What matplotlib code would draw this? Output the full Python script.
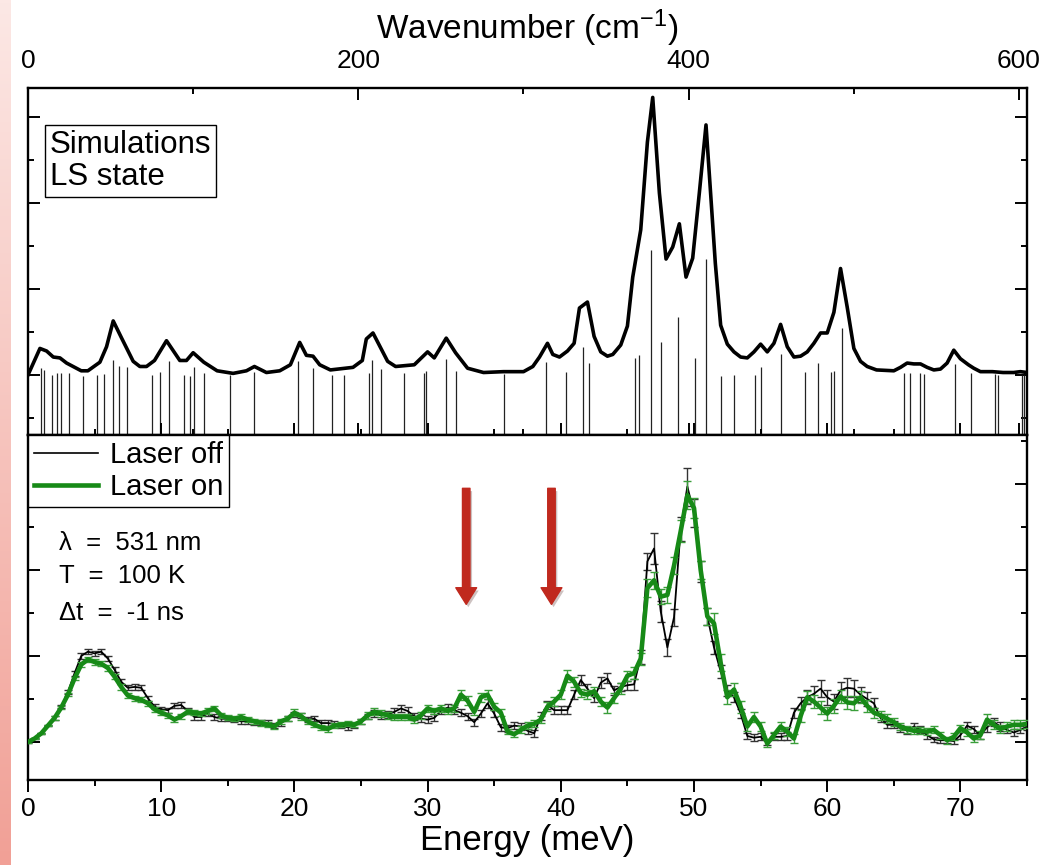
import numpy as np
import matplotlib
matplotlib.use("Agg")
import matplotlib.pyplot as plt
from matplotlib.lines import Line2D
import matplotlib.patheffects as pe

plt.rcParams['font.family'] = ['Liberation Sans', 'DejaVu Sans']
plt.rcParams['mathtext.fontset'] = 'custom'
plt.rcParams['mathtext.rm'] = 'Liberation Sans'
plt.rcParams['mathtext.default'] = 'regular'

MEV_TO_CM = 8.0655

# simulated spectrum (LS state), energy in meV
sim_energy = [0.0, 0.9, 1.4, 1.9, 2.4, 2.9, 4.0, 4.5, 5.4, 5.9, 6.4, 7.0, 7.9, 8.4, 8.9, 9.5,
              10.4, 11.4, 11.9, 12.4, 13.2, 14.2, 15.4, 16.4, 17.0, 17.9, 18.9, 19.7, 20.4, 20.9,
              21.4, 21.9, 22.7, 24.4, 25.1, 25.4, 25.9, 26.4, 27.0, 27.6, 29.0, 30.0, 30.5, 31.4,
              32.1, 33.0, 34.2, 35.7, 37.2, 37.9, 38.4, 39.0, 39.4, 39.9, 40.5, 41.0, 41.4, 42.0,
              42.5, 43.0, 43.5, 43.9, 44.5, 45.0, 45.4, 46.0, 46.5, 46.9, 47.4, 47.9, 48.4, 48.9,
              49.4, 49.9, 50.4, 50.9, 51.6, 52.0, 52.5, 53.0, 53.5, 54.0, 54.5, 55.0, 55.5, 56.0,
              56.5, 57.0, 57.5, 58.0, 58.5, 59.0, 59.5, 60.0, 60.5, 61.0, 61.5, 62.0, 62.5, 63.0,
              63.7, 65.0, 65.5, 66.0, 66.5, 67.0, 67.5, 68.0, 68.5, 69.0, 69.5, 70.0, 70.6, 71.0,
              71.5, 72.4, 73.2, 74.0, 74.5, 75.0]
sim_intensity = [0.0, 0.31, 0.28, 0.21, 0.20, 0.14, 0.05, 0.05, 0.15, 0.33, 0.63, 0.44, 0.16, 0.10, 0.10, 0.17,
                 0.40, 0.17, 0.17, 0.26, 0.15, 0.05, 0.02, 0.05, 0.10, 0.03, 0.05, 0.12, 0.38, 0.23,
                 0.22, 0.12, 0.06, 0.09, 0.17, 0.42, 0.49, 0.34, 0.16, 0.10, 0.12, 0.27, 0.20, 0.43,
                 0.26, 0.08, 0.03, 0.04, 0.04, 0.10, 0.21, 0.37, 0.24, 0.21, 0.28, 0.37, 0.78, 0.85,
                 0.45, 0.27, 0.22, 0.24, 0.35, 0.57, 1.14, 1.69, 2.71, 3.23, 2.12, 1.35, 1.49, 1.76,
                 1.14, 1.36, 2.12, 2.91, 1.30, 0.58, 0.36, 0.27, 0.21, 0.20, 0.27, 0.36, 0.27, 0.37,
                 0.59, 0.33, 0.21, 0.22, 0.27, 0.37, 0.49, 0.49, 0.73, 1.24, 0.79, 0.31, 0.16, 0.10,
                 0.06, 0.05, 0.09, 0.14, 0.13, 0.13, 0.09, 0.06, 0.07, 0.14, 0.29, 0.19, 0.12, 0.08,
                 0.04, 0.04, 0.03, 0.03, 0.04, 0.03]

# individual modes (stick spectrum)
mode_energy = [0.95, 1.2, 1.8, 2.2, 2.5, 3.1, 4.1, 5.2, 5.7, 6.4, 6.8, 7.4, 9.3, 9.9, 10.6, 11.7,
               12.2, 12.5, 13.2, 15.2, 17.0, 20.3, 21.4, 22.8, 23.7, 25.6, 25.8, 26.5, 28.2, 29.7,
               29.9, 31.4, 32.1, 35.7, 38.9, 40.4, 41.7, 42.1, 45.6, 45.9, 46.8, 47.5, 48.8, 50.1,
               50.9, 52.0, 53.0, 54.6, 55.0, 56.5, 58.3, 59.3, 60.3, 60.5, 61.1, 65.8, 66.2, 67.0,
               67.3, 69.6, 70.8, 72.6, 72.8, 74.6, 74.8]
mode_height = [0.08, 0.06, 0.0, 0.03, 0.02, 0.02, -0.01, 0.0, 0.01, 0.18, 0.10, 0.09, 0.0, 0.04, 0.16, 0.0,
               -0.01, 0.09, 0.02, 0.0, 0.04, 0.16, 0.08, 0.0, 0.0, 0.03, 0.17, 0.07, 0.02, 0.03,
               0.05, 0.19, 0.05, 0.01, 0.15, 0.04, 0.33, 0.14, 0.20, 0.23, 1.45, 0.38, 0.67, 0.20,
               1.35, -0.01, 0.0, 0.0, 0.09, 0.24, 0.04, 0.14, 0.04, 0.05, 0.55, 0.02, 0.02, 0.02,
               0.01, 0.13, 0.02, 0.01, 0.0, 0.0, 0.0]

# measured spectra, 0.5 meV steps from 0 to 75 meV
energy = np.arange(0, 75.01, 0.5)
laser_off = [0.00, 0.04, 0.10, 0.19, 0.28, 0.41, 0.58, 0.80, 1.00, 1.05,
             1.03, 1.05, 0.97, 0.84, 0.70, 0.63, 0.64, 0.63, 0.51, 0.41,
             0.38, 0.37, 0.42, 0.43, 0.36, 0.29, 0.29, 0.33, 0.29, 0.27,
             0.27, 0.26, 0.24, 0.24, 0.23, 0.23, 0.22, 0.19, 0.22, 0.27,
             0.32, 0.31, 0.26, 0.27, 0.22, 0.22, 0.21, 0.19, 0.17, 0.19,
             0.24, 0.30, 0.33, 0.31, 0.32, 0.35, 0.39, 0.36, 0.30, 0.27,
             0.26, 0.28, 0.36, 0.40, 0.37, 0.34, 0.30, 0.23, 0.33, 0.45,
             0.33, 0.17, 0.16, 0.19, 0.18, 0.13, 0.10, 0.30, 0.43, 0.37,
             0.37, 0.37, 0.55, 0.72, 0.62, 0.51, 0.69, 0.74, 0.60, 0.64,
             0.66, 0.67, 0.99, 2.10, 2.25, 1.52, 1.10, 1.45, 2.48, 2.97,
             2.66, 1.98, 1.46, 1.10, 0.82, 0.60, 0.52, 0.33, 0.07, 0.05,
             0.06, -0.01, 0.06, 0.06, 0.07, 0.34, 0.45, 0.52, 0.56, 0.62,
             0.52, 0.47, 0.60, 0.63, 0.62, 0.55, 0.50, 0.45, 0.28, 0.20,
             0.20, 0.16, 0.13, 0.18, 0.14, 0.08, 0.03, 0.02, 0.02, 0.01,
             0.08, 0.19, 0.15, 0.08, 0.17, 0.23, 0.18, 0.14, 0.11, 0.14, 0.18]
laser_on = [0.00, 0.04, 0.10, 0.19, 0.28, 0.40, 0.55, 0.74, 0.90, 0.96,
            0.93, 0.91, 0.86, 0.76, 0.64, 0.54, 0.51, 0.49, 0.45, 0.38,
            0.34, 0.31, 0.26, 0.30, 0.35, 0.34, 0.33, 0.36, 0.39, 0.31,
            0.28, 0.27, 0.29, 0.26, 0.24, 0.22, 0.20, 0.18, 0.24, 0.27,
            0.34, 0.30, 0.24, 0.20, 0.17, 0.15, 0.19, 0.20, 0.21, 0.20,
            0.24, 0.31, 0.35, 0.33, 0.31, 0.29, 0.29, 0.29, 0.26, 0.31,
            0.39, 0.36, 0.39, 0.36, 0.39, 0.55, 0.48, 0.35, 0.52, 0.55,
            0.41, 0.34, 0.12, 0.09, 0.14, 0.19, 0.21, 0.26, 0.41, 0.47,
            0.55, 0.77, 0.70, 0.57, 0.55, 0.59, 0.47, 0.40, 0.51, 0.62,
            0.77, 0.80, 0.97, 1.79, 1.88, 1.69, 1.71, 2.05, 2.45, 2.87,
            2.72, 2.00, 1.46, 1.38, 0.92, 0.52, 0.61, 0.41, 0.18, 0.29,
            0.18, -0.02, 0.08, 0.18, 0.12, 0.04, 0.30, 0.52, 0.47, 0.40,
            0.33, 0.42, 0.53, 0.46, 0.45, 0.52, 0.42, 0.34, 0.31, 0.27,
            0.23, 0.18, 0.15, 0.13, 0.13, 0.12, 0.14, 0.08, 0.02, 0.06,
            0.16, 0.11, 0.04, 0.08, 0.26, 0.20, 0.15, 0.18, 0.20, 0.20, 0.21]
err_off = [0.01, 0.01, 0.01, 0.01, 0.02, 0.02, 0.02, 0.03, 0.03, 0.03,
           0.03, 0.03, 0.03, 0.03, 0.03, 0.03, 0.03, 0.03, 0.03, 0.03,
           0.03, 0.03, 0.03, 0.03, 0.03, 0.03, 0.03, 0.03, 0.03, 0.03,
           0.03, 0.03, 0.03, 0.03, 0.03, 0.03, 0.03, 0.03, 0.03, 0.03,
           0.03, 0.03, 0.03, 0.03, 0.03, 0.03, 0.03, 0.03, 0.03, 0.03,
           0.03, 0.03, 0.04, 0.04, 0.04, 0.04, 0.04, 0.05, 0.04, 0.04,
           0.04, 0.04, 0.04, 0.04, 0.04, 0.04, 0.04, 0.04, 0.04, 0.05,
           0.04, 0.04, 0.04, 0.04, 0.04, 0.04, 0.04, 0.05, 0.05, 0.05,
           0.05, 0.05, 0.05, 0.06, 0.05, 0.05, 0.06, 0.06, 0.05, 0.05,
           0.05, 0.06, 0.08, 0.10, 0.18, 0.12, 0.10, 0.10, 0.14, 0.22,
           0.16, 0.12, 0.10, 0.08, 0.08, 0.06, 0.06, 0.05, 0.04, 0.04,
           0.04, 0.03, 0.04, 0.04, 0.05, 0.06, 0.07, 0.08, 0.09, 0.10,
           0.09, 0.09, 0.10, 0.11, 0.10, 0.09, 0.08, 0.06, 0.05, 0.04,
           0.04, 0.04, 0.04, 0.04, 0.04, 0.04, 0.03, 0.03, 0.03, 0.03,
           0.04, 0.04, 0.04, 0.04, 0.05, 0.05, 0.05, 0.04, 0.04, 0.04, 0.04]
err_on = [0.01, 0.01, 0.01, 0.01, 0.02, 0.02, 0.02, 0.02, 0.03, 0.03,
          0.03, 0.03, 0.03, 0.03, 0.03, 0.03, 0.03, 0.03, 0.03, 0.03,
          0.03, 0.03, 0.03, 0.03, 0.03, 0.03, 0.03, 0.03, 0.03, 0.03,
          0.03, 0.03, 0.03, 0.03, 0.03, 0.03, 0.03, 0.03, 0.03, 0.03,
          0.04, 0.04, 0.03, 0.03, 0.03, 0.03, 0.03, 0.03, 0.03, 0.03,
          0.03, 0.04, 0.04, 0.04, 0.04, 0.04, 0.04, 0.04, 0.04, 0.04,
          0.04, 0.04, 0.04, 0.04, 0.04, 0.06, 0.05, 0.04, 0.05, 0.05,
          0.04, 0.04, 0.03, 0.03, 0.04, 0.04, 0.04, 0.04, 0.05, 0.05,
          0.05, 0.07, 0.06, 0.05, 0.05, 0.05, 0.05, 0.06, 0.06, 0.06,
          0.06, 0.07, 0.07, 0.10, 0.10, 0.09, 0.09, 0.10, 0.13, 0.16,
          0.12, 0.10, 0.10, 0.12, 0.10, 0.08, 0.08, 0.07, 0.05, 0.06,
          0.05, 0.04, 0.04, 0.05, 0.05, 0.05, 0.07, 0.07, 0.08, 0.08,
          0.08, 0.08, 0.08, 0.08, 0.08, 0.07, 0.07, 0.06, 0.05, 0.05,
          0.05, 0.04, 0.04, 0.04, 0.04, 0.04, 0.04, 0.04, 0.04, 0.04,
          0.04, 0.04, 0.04, 0.05, 0.06, 0.05, 0.05, 0.05, 0.05, 0.05, 0.05]

arrow_energy = [32.9, 39.3]
wn_major = [0, 200, 400, 600]
wn_minor = [100, 300, 500]
conditions = ['\u03bb  =  531 nm', 'T  =  100 K', '\u0394t  =  -1 ns']

green = '#178a17'
red = '#c0291e'

fig = plt.figure(figsize=(10.55, 8.65), dpi=100)

# pink strip at the left edge (slide background)
strip = fig.add_axes([0, 0, 0.0095, 1])
grad = np.linspace(0, 1, 256)[:, None, None]
top_c = np.array([252, 232, 229]) / 255
bot_c = np.array([241, 160, 150]) / 255
strip.imshow(top_c + grad * (bot_c - top_c), aspect='auto')
strip.axis('off')

ax1 = fig.add_axes([0.0265, 0.497, 0.947, 0.401])
ax2 = fig.add_axes([0.0265, 0.0983, 0.947, 0.3988])

#%% top panel: simulation
ax1.set_xlim(0, 75)
ax1.set_ylim(-0.698, 3.337)
ax1.vlines(mode_energy, -0.698, mode_height, color='#222222', lw=0.9)
ax1.plot(sim_energy, sim_intensity, color='black', lw=2.6)
ax1.set_xticks(np.array(wn_major) / MEV_TO_CM)
ax1.set_xticklabels([str(w) for w in wn_major])
ax1.set_xticks(np.array(wn_minor) / MEV_TO_CM, minor=True)
ax1.tick_params(axis='x', which='both', direction='in', top=True, bottom=True,
                labeltop=True, labelbottom=False, labelsize=19, pad=11)
ax1.xaxis.set_label_position('top')
ax1.set_xlabel('Wavenumber (cm$^{-1}$)', fontsize=24, labelpad=7)
ax1.text(0.022, 0.79, 'Simulations\nLS state', transform=ax1.transAxes, fontsize=22.5,
         va='center', ha='left', linespacing=1.1,
         bbox=dict(boxstyle='square,pad=0.15', fc='white', ec='black', lw=1))

#%% bottom panel: measurement
ax2.set_xlim(0, 75)
ax2.set_ylim(-0.442, 3.570)
ax2.errorbar(energy, laser_off, yerr=err_off, color='black', lw=1.3, ecolor='#333333',
             elinewidth=1.0, capsize=2.8, capthick=1.0, zorder=2)
ax2.errorbar(energy, laser_on, yerr=err_on, color=green, lw=3.3, ecolor='#3a9e3a',
             elinewidth=1.0, capsize=2.8, capthick=1.0, zorder=3)
ax2.set_xticks(np.arange(0, 71, 10))
ax2.set_xticks(np.arange(5, 76, 10), minor=True)
ax2.tick_params(axis='x', which='both', direction='out', top=True, bottom=True,
                labeltop=False, labelbottom=True, labelsize=19, pad=4)
ax2.set_xlabel('Energy (meV)', fontsize=25, labelpad=2)

handles = [Line2D([], [], color='black', lw=1.2), Line2D([], [], color=green, lw=3.3)]
leg = ax2.legend(handles, ['Laser off', 'Laser on'], loc='upper left', bbox_to_anchor=(0, 1),
                 borderaxespad=0, fontsize=21, frameon=True, fancybox=False, framealpha=1,
                 edgecolor='black', handlelength=2.2, handletextpad=0.4, borderpad=0.2,
                 labelspacing=0.15)
leg.get_frame().set_linewidth(1.0)

for txt, ypos in zip(conditions, [0.687, 0.591, 0.484]):
    ax2.text(0.031, ypos, txt, transform=ax2.transAxes, fontsize=18.5, va='center')

for e in arrow_energy:
    ax2.annotate('', xy=(e, 1.60), xytext=(e, 2.95),
                 arrowprops=dict(arrowstyle='simple,head_length=0.6,head_width=0.75,tail_width=0.27',
                                 color=red, mutation_scale=20, shrinkA=0, shrinkB=0,
                                 path_effects=[pe.SimplePatchShadow(offset=(1.5, -2), alpha=0.25),
                                               pe.Normal()]))

# y axes: no labels, inward ticks on both sides
for ax in (ax1, ax2):
    ax.set_yticks([0, 1, 2, 3])
    ax.set_yticks([-0.5, 0.5, 1.5, 2.5, 3.5], minor=True)
    ax.tick_params(axis='y', which='both', direction='in', left=True, right=True,
                   labelleft=False, labelright=False)
    ax.tick_params(which='major', length=8.5, width=1.4)
    ax.tick_params(which='minor', length=4, width=1.4)
    for s in ax.spines.values():
        s.set_linewidth(1.7)
ax1.set_ylim(-0.698, 3.337)
ax2.set_ylim(-0.442, 3.570)

fig.savefig('out.png', dpi=100)
